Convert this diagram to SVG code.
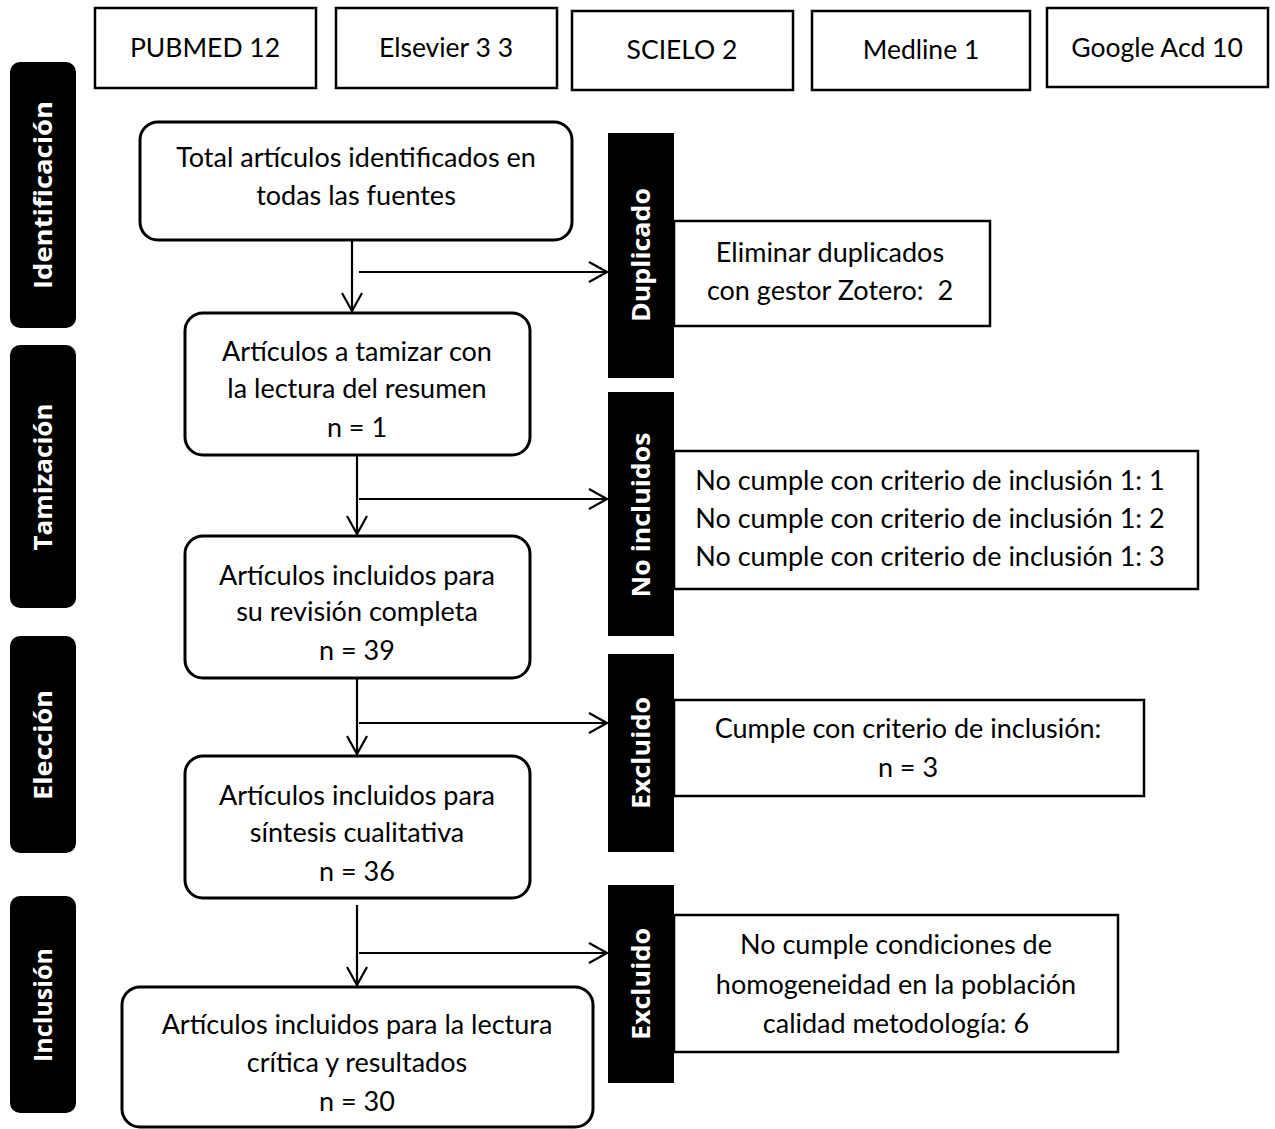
<svg xmlns="http://www.w3.org/2000/svg" width="1275" height="1129" viewBox="0 0 1275 1129">
<defs>
<style>
.src{fill:#fff;stroke:#000;stroke-width:2.5}
.box{fill:#fff;stroke:#000;stroke-width:3}
.rbox{fill:#fff;stroke:#000;stroke-width:2.5}
.bar{fill:#000}
.t{font-family:Lato,"Liberation Sans",sans-serif;font-size:27px;fill:#000;text-anchor:middle}
.ts{font-family:Lato,"Liberation Sans",sans-serif;font-size:26.5px;fill:#000;text-anchor:middle}
.lb{font-family:"Open Sans","Liberation Sans",sans-serif;font-weight:bold;font-size:25px;fill:#fff;text-anchor:middle}
.c{fill:none;stroke:#000;stroke-width:2.2}
</style>
<marker id="ah" viewBox="0 0 20 24" refX="19" refY="12" markerWidth="20" markerHeight="24" markerUnits="userSpaceOnUse" orient="auto">
<path d="M1,2 L19,12 L1,22" fill="none" stroke="#000" stroke-width="2.2"/>
</marker>
</defs>
<rect width="1275" height="1129" fill="#fff"/>

<g id="src-pubmed"><rect class="src" x="95" y="8" width="221" height="80"/><text class="ts" x="205" y="57">PUBMED 12</text></g>
<g id="src-elsevier"><rect class="src" x="336" y="8" width="221" height="80"/><text class="ts" x="446" y="57">Elsevier 3 3</text></g>
<g id="src-scielo"><rect class="src" x="572" y="11" width="221" height="79"/><text class="ts" x="682" y="59">SCIELO 2</text></g>
<g id="src-medline"><rect class="src" x="812" y="11" width="218" height="79"/><text class="ts" x="921" y="59">Medline 1</text></g>
<g id="src-google"><rect class="src" x="1047" y="8" width="221" height="79"/><text class="ts" x="1157" y="57">Google Acd 10</text></g>

<g id="lbl-identificacion"><rect class="bar" x="10" y="62" width="66" height="266" rx="10"/><text class="lb" transform="translate(52,195) rotate(-90)" textLength="188" lengthAdjust="spacingAndGlyphs">Identificación</text></g>
<g id="lbl-tamizacion"><rect class="bar" x="10" y="345" width="66" height="263" rx="10"/><text class="lb" transform="translate(52,477) rotate(-90)" textLength="147" lengthAdjust="spacingAndGlyphs">Tamización</text></g>
<g id="lbl-eleccion"><rect class="bar" x="10" y="636" width="66" height="217" rx="10"/><text class="lb" transform="translate(52,745) rotate(-90)" textLength="110" lengthAdjust="spacingAndGlyphs">Elección</text></g>
<g id="lbl-inclusion"><rect class="bar" x="10" y="896" width="66" height="217" rx="10"/><text class="lb" transform="translate(52,1005) rotate(-90)" textLength="114" lengthAdjust="spacingAndGlyphs">Inclusión</text></g>

<g id="n-total"><rect class="box" x="140" y="122" width="432" height="118" rx="18"/>
<text class="t" x="356" y="167">Total artículos identificados en</text>
<text class="t" x="356" y="205">todas las fuentes</text></g>
<g id="n-tamizar"><rect class="box" x="185" y="313" width="345" height="142" rx="18"/>
<text class="t" x="357" y="361">Artículos a tamizar con</text>
<text class="t" x="357" y="398">la lectura del resumen</text>
<text class="t" x="357" y="437">n = 1</text></g>
<g id="n-revision"><rect class="box" x="185" y="536" width="345" height="142" rx="18"/>
<text class="t" x="357" y="585">Artículos incluidos para</text>
<text class="t" x="357" y="621">su revisión completa</text>
<text class="t" x="357" y="660">n = 39</text></g>
<g id="n-sintesis"><rect class="box" x="185" y="756" width="345" height="142" rx="18"/>
<text class="t" x="357" y="805">Artículos incluidos para</text>
<text class="t" x="357" y="842">síntesis cualitativa</text>
<text class="t" x="357" y="881">n = 36</text></g>
<g id="n-lectura"><rect class="box" x="122" y="987" width="471" height="140" rx="18"/>
<text class="t" x="357" y="1034">Artículos incluidos para la lectura</text>
<text class="t" x="357" y="1072">crítica y resultados</text>
<text class="t" x="357" y="1111">n = 30</text></g>

<g id="n-duplicado"><rect class="bar" x="608" y="133" width="66" height="245"/><text class="lb" transform="translate(650,255) rotate(-90)" textLength="134" lengthAdjust="spacingAndGlyphs">Duplicado</text>
<rect class="rbox" x="674" y="221" width="316" height="105"/>
<text class="t" x="830" y="262">Eliminar duplicados</text>
<text class="t" x="830" y="300">con gestor Zotero:&#160; 2</text></g>
<g id="n-noincluidos"><rect class="bar" x="608" y="392" width="66" height="244"/><text class="lb" transform="translate(650,515) rotate(-90)" textLength="165" lengthAdjust="spacingAndGlyphs">No incluidos</text>
<rect class="rbox" x="674" y="451" width="524" height="138"/>
<text class="t" x="930" y="490">No cumple con criterio de inclusión 1: 1</text>
<text class="t" x="930" y="528">No cumple con criterio de inclusión 1: 2</text>
<text class="t" x="930" y="566">No cumple con criterio de inclusión 1: 3</text></g>
<g id="n-excluido1"><rect class="bar" x="608" y="654" width="66" height="198"/><text class="lb" transform="translate(650,753) rotate(-90)" textLength="112" lengthAdjust="spacingAndGlyphs">Excluido</text>
<rect class="rbox" x="674" y="700" width="470" height="96"/>
<text class="t" x="908" y="738">Cumple con criterio de inclusión:</text>
<text class="t" x="908" y="777">n = 3</text></g>
<g id="n-excluido2"><rect class="bar" x="608" y="885" width="66" height="198"/><text class="lb" transform="translate(650,984) rotate(-90)" textLength="112" lengthAdjust="spacingAndGlyphs">Excluido</text>
<rect class="rbox" x="674" y="915" width="444" height="137"/>
<text class="t" x="896" y="954">No cumple condiciones de</text>
<text class="t" x="896" y="994">homogeneidad en la población</text>
<text class="t" x="896" y="1033">calidad metodología: 6</text></g>

<g id="connectors">
<path class="c" d="M352,240 V311" marker-end="url(#ah)"/>
<path class="c" d="M359,272 H607" marker-end="url(#ah)"/>
<path class="c" d="M357,455 V534" marker-end="url(#ah)"/>
<path class="c" d="M359,499 H607" marker-end="url(#ah)"/>
<path class="c" d="M357,678 V754" marker-end="url(#ah)"/>
<path class="c" d="M359,723 H607" marker-end="url(#ah)"/>
<path class="c" d="M357,905 V985" marker-end="url(#ah)"/>
<path class="c" d="M359,953 H607" marker-end="url(#ah)"/>
</g>
</svg>
